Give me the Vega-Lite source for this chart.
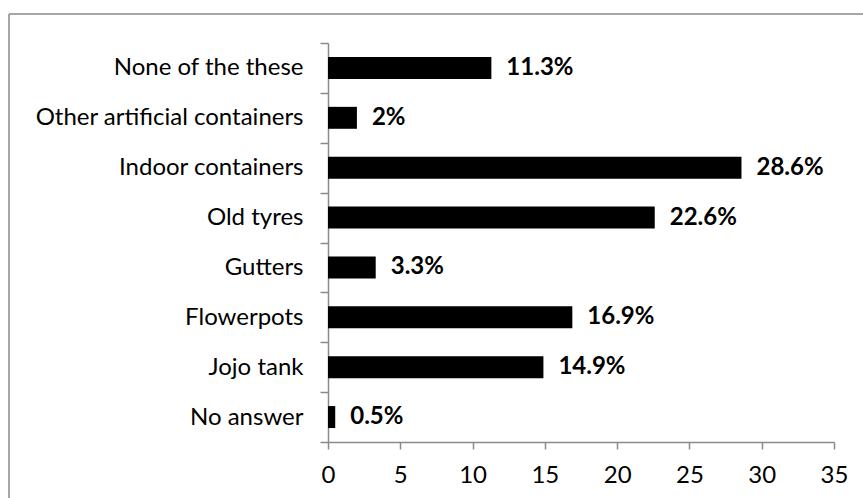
{
  "$schema": "https://vega.github.io/schema/vega-lite/v6.json",
  "width": 854,
  "height": 484,
  "autosize": {"type": "none"},
  "padding": {"left": 9, "top": 14, "right": 0, "bottom": 0},
  "background": "white",
  "config": {
    "font": "Lato",
    "view": {"stroke": "#8a8a8a", "strokeWidth": 1.5, "strokeDash": [854, 1338, 484, 0]}
  },
  "data": {
    "values": [
      {"category": "None of the these", "value": 11.3, "label": "11.3%"},
      {"category": "Other artificial containers", "value": 2, "label": "2%"},
      {"category": "Indoor containers", "value": 28.6, "label": "28.6%"},
      {"category": "Old tyres", "value": 22.6, "label": "22.6%"},
      {"category": "Gutters", "value": 3.3, "label": "3.3%"},
      {"category": "Flowerpots", "value": 16.9, "label": "16.9%"},
      {"category": "Jojo tank", "value": 14.9, "label": "14.9%"},
      {"category": "No answer", "value": 0.5, "label": "0.5%"}
    ]
  },
  "encoding": {
    "y": {
      "field": "category",
      "type": "nominal",
      "sort": null,
      "scale": {"range": [29, 428], "paddingInner": 0, "paddingOuter": 0},
      "axis": {
        "title": null,
        "offset": -319,
        "domainColor": "#8a8a8a",
        "domainWidth": 1.5,
        "tickColor": "#8a8a8a",
        "tickWidth": 1.5,
        "tickSize": 8,
        "tickBand": "extent",
        "labelFont": "Lato",
        "labelFontSize": 24,
        "labelColor": "black",
        "labelPadding": 17,
        "labelLimit": 400
      }
    },
    "x": {
      "field": "value",
      "type": "quantitative",
      "scale": {"domain": [0, 35], "range": [319, 825], "nice": false, "zero": true},
      "axis": {
        "title": null,
        "offset": -56,
        "values": [0, 5, 10, 15, 20, 25, 30, 35],
        "grid": false,
        "domainColor": "#8a8a8a",
        "domainWidth": 1.5,
        "tickColor": "#8a8a8a",
        "tickWidth": 1.5,
        "tickSize": 7,
        "labelFont": "Lato",
        "labelFontSize": 24,
        "labelColor": "black",
        "labelPadding": 14,
        "labelFlush": false
      }
    }
  },
  "layer": [
    {"mark": {"type": "bar", "color": "black", "height": {"band": 0.44}}},
    {
      "mark": {"type": "text", "align": "left", "baseline": "middle", "dx": 15, "fontWeight": "bold", "fontSize": 24, "font": "Lato", "color": "black"},
      "encoding": {"text": {"field": "label"}}
    }
  ]
}
